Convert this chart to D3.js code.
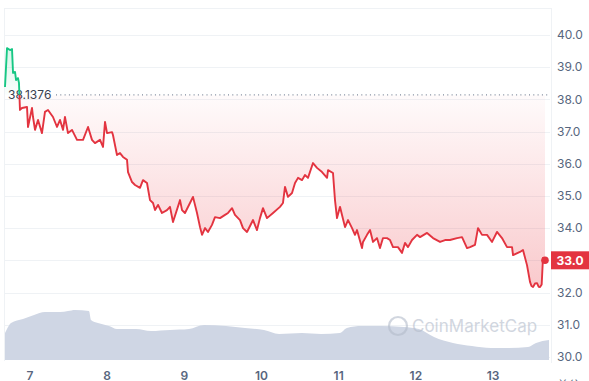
<!DOCTYPE html>
<html><head><meta charset="utf-8">
<script src="https://cdn.jsdelivr.net/npm/d3@7"></script>
<style>
html,body{margin:0;padding:0;background:#fff;}
svg{display:block;font-family:Inter,"Noto Sans",sans-serif;}
</style></head>
<body><svg id="c" width="589" height="381"></svg>
<script>
// ---- data ----
const baselinePrice = 38.1376;
const lastPrice = 33.0;
const dayTicks = [7, 8, 9, 10, 11, 12, 13];
const priceTicks = [30, 31, 32, 33, 34, 35, 36, 37, 38, 39, 40];
const priceTime = [6.676,6.702,6.741,6.767,6.780,6.806,6.819,6.844,6.857,6.870,6.896,6.961,6.974,7.026,7.039,7.065,7.104,7.155,7.194,7.233,7.298,7.350,7.389,7.428,7.453,7.492,7.544,7.609,7.687,7.752,7.803,7.842,7.907,7.946,7.972,7.998,8.063,8.075,8.127,8.166,8.205,8.257,8.270,8.322,8.361,8.425,8.464,8.516,8.555,8.594,8.620,8.659,8.710,8.775,8.814,8.853,8.944,8.970,9.008,9.073,9.112,9.164,9.203,9.229,9.268,9.306,9.358,9.397,9.462,9.527,9.566,9.618,9.656,9.721,9.760,9.812,9.890,9.941,9.980,10.019,10.071,10.149,10.239,10.278,10.304,10.343,10.395,10.434,10.473,10.525,10.563,10.602,10.667,10.719,10.784,10.849,10.862,10.926,10.952,10.978,11.017,11.043,11.082,11.121,11.173,11.211,11.237,11.302,11.315,11.367,11.406,11.445,11.496,11.535,11.574,11.626,11.665,11.704,11.768,11.820,11.859,11.898,11.950,12.015,12.054,12.145,12.222,12.313,12.378,12.442,12.533,12.598,12.663,12.702,12.766,12.805,12.857,12.922,12.987,13.051,13.116,13.181,13.246,13.259,13.349,13.388,13.440,13.479,13.498,13.518,13.544,13.570,13.590,13.609,13.630,13.647,13.673];
const priceValue = [38.38,39.59,39.53,39.56,38.82,38.85,38.60,38.66,38.51,37.67,37.73,37.76,37.14,37.73,37.45,37.05,37.36,36.95,37.61,37.67,37.45,37.14,37.36,37.05,37.45,36.95,37.05,36.74,36.74,37.14,36.74,36.64,36.74,36.52,37.30,36.95,36.98,36.89,36.27,36.33,36.21,36.12,35.74,35.43,35.34,35.25,35.49,35.40,34.87,34.78,34.56,34.72,34.47,34.56,34.66,34.19,34.87,34.56,34.47,34.78,34.97,34.47,34.03,33.79,34.00,33.88,34.10,34.34,34.31,34.41,34.47,34.62,34.41,34.25,34.00,33.88,34.25,33.94,34.31,34.62,34.31,34.47,34.66,34.78,35.28,34.97,35.09,35.40,35.56,35.49,35.65,35.56,36.02,35.87,35.74,35.56,35.80,35.71,34.87,34.31,34.66,34.41,34.03,34.25,34.00,33.79,33.94,33.38,33.57,33.79,33.94,33.57,33.69,33.38,33.69,33.69,33.63,33.41,33.41,33.23,33.54,33.41,33.63,33.79,33.72,33.85,33.69,33.57,33.63,33.63,33.69,33.72,33.38,33.41,33.48,34.00,33.79,33.79,33.57,33.88,33.69,33.41,33.41,33.16,33.26,33.32,32.85,32.33,32.20,32.17,32.28,32.29,32.18,32.17,32.25,33.07,33.01];
const volumeTime = [6.676,6.708,6.754,6.909,7.052,7.194,7.389,7.492,7.583,7.764,7.790,7.881,8.024,8.127,8.373,8.568,8.814,9.060,9.255,9.540,9.786,10.032,10.227,10.524,10.771,11.015,11.106,11.300,11.546,11.844,12.039,12.235,12.481,12.727,12.974,13.207,13.453,13.557,13.725];
const volumeValue = [27,32,37,41,45,48,48,49,50,49,40,37,34,31,31,29,30,31,35,34,32,30,26,27,26,27,32,34,34,33,31,23,17,14,12,12,13,17,20];

(function () {
// ---- layout ----
const svg = d3.select('#c');
const pLeft = 5, pRight = 550, pTop = 8, pBottom = 361;
const x = d3.scaleLinear().domain([6.676, 13.738]).range([pLeft, pRight]);
const y = d3.scaleLinear().domain([30, 40]).range([356.9, 34.9]);
const yv = d3.scaleLinear().domain([0, 100]).range([360, 260]);
const RED = '#e33440', GREEN = '#16c784';

const prices = priceTime.map((t, i) => ({t, v: priceValue[i]}));
const vols = volumeTime.map((t, i) => ({t, v: volumeValue[i]}));
const by = y(baselinePrice);

const defs = svg.append('defs');
const gr = defs.append('linearGradient').attr('id', 'gRed').attr('gradientUnits', 'userSpaceOnUse')
  .attr('x1', 0).attr('x2', 0).attr('y1', by).attr('y2', 295);
gr.append('stop').attr('offset', 0).attr('stop-color', '#ea3943').attr('stop-opacity', 0.02);
gr.append('stop').attr('offset', 1).attr('stop-color', '#ea3943').attr('stop-opacity', 0.28);
const gg = defs.append('linearGradient').attr('id', 'gGreen').attr('gradientUnits', 'userSpaceOnUse')
  .attr('x1', 0).attr('x2', 0).attr('y1', 40).attr('y2', by);
gg.append('stop').attr('offset', 0).attr('stop-color', GREEN).attr('stop-opacity', 0.2);
gg.append('stop').attr('offset', 1).attr('stop-color', GREEN).attr('stop-opacity', 0.02);
defs.append('clipPath').attr('id', 'above').append('rect').attr('x', 0).attr('y', 0).attr('width', 589).attr('height', by);
defs.append('clipPath').attr('id', 'below').append('rect').attr('x', 0).attr('y', by).attr('width', 589).attr('height', 381 - by);

// frame
svg.append('line').attr('x1', pLeft - 1).attr('x2', pRight + 1).attr('y1', pTop + 0.5).attr('y2', pTop + 0.5).attr('stroke', '#eff2f5');
svg.append('line').attr('x1', pLeft - 0.5).attr('x2', pLeft - 0.5).attr('y1', pTop).attr('y2', pBottom).attr('stroke', '#eff2f5');
svg.append('line').attr('x1', pRight + 1.5).attr('x2', pRight + 1.5).attr('y1', pTop).attr('y2', pBottom + 2).attr('stroke', '#eff2f5');

// gridlines
svg.append('g').selectAll('line').data(priceTicks).join('line')
  .attr('x1', pLeft).attr('x2', pRight).attr('y1', d => Math.round(y(d)) + 0.5).attr('y2', d => Math.round(y(d)) + 0.5)
  .attr('stroke', '#eff2f5');

// volume
svg.append('path').datum(vols)
  .attr('d', d3.area().x(d => x(d.t)).y0(yv(0)).y1(d => yv(d.v)).curve(d3.curveMonotoneX))
  .attr('fill', '#cfd6e4');

// watermark
const wm = svg.append('g').attr('opacity', 0.6);
wm.append('circle').attr('cx', 398).attr('cy', 326).attr('r', 9).attr('fill', 'none').attr('stroke', '#b4bccb').attr('stroke-width', 2.2);
wm.append('text').attr('x', 412).attr('y', 332).attr('font-size', 17).attr('fill', '#b4bccb').text('CoinMarketCap');

// price areas
const area = d3.area().x(d => x(d.t)).y0(by).y1(d => y(d.v));
svg.append('path').datum(prices).attr('d', area).attr('fill', 'url(#gRed)').attr('clip-path', 'url(#below)');
svg.append('path').datum(prices).attr('d', area).attr('fill', 'url(#gGreen)').attr('clip-path', 'url(#above)');

// baseline dotted
svg.append('line').attr('x1', 56).attr('x2', pRight - 2).attr('y1', by).attr('y2', by)
  .attr('stroke', '#808a9d').attr('stroke-width', 1.2).attr('stroke-dasharray', '1 3.3');
svg.append('text').attr('x', 8).attr('y', by).attr('dy', '0.35em').attr('font-size', 12)
  .attr('fill', '#3a4150').text(baselinePrice.toFixed(4));

// price line
const line = d3.line().x(d => x(d.t)).y(d => y(d.v));
svg.append('path').datum(prices).attr('d', line).attr('fill', 'none').attr('stroke', RED)
  .attr('stroke-width', 1.9).attr('stroke-linejoin', 'round').attr('clip-path', 'url(#below)');
svg.append('path').datum(prices).attr('d', line).attr('fill', 'none').attr('stroke', GREEN)
  .attr('stroke-width', 1.9).attr('stroke-linejoin', 'round').attr('clip-path', 'url(#above)');

const last = prices[prices.length - 1];
svg.append('circle').attr('cx', x(last.t)).attr('cy', y(lastPrice)).attr('r', 3.8).attr('fill', RED);

// y axis labels
svg.append('g').selectAll('text').data(priceTicks).join('text')
  .attr('x', 557).attr('y', d => y(d)).attr('dy', '0.35em').attr('font-size', 12).attr('fill', '#58667e')
  .text(d => d.toFixed(1));

// last price tag
svg.append('rect').attr('x', 551).attr('y', y(lastPrice) - 9).attr('width', 38).attr('height', 18).attr('fill', RED);
svg.append('text').attr('x', 570).attr('y', y(lastPrice)).attr('dy', '0.36em').attr('text-anchor', 'middle')
  .attr('font-size', 12).attr('font-weight', 700).attr('fill', '#fff').text(lastPrice.toFixed(1));

// x axis labels
svg.append('g').selectAll('text').data(dayTicks).join('text')
  .attr('x', d => x(d)).attr('y', 379.5).attr('text-anchor', 'middle').attr('font-size', 12)
  .attr('font-weight', 600).attr('fill', '#58667e').text(d => d);

svg.append('text').attr('x', 557).attr('y', 389).attr('font-size', 12).attr('fill', '#58667e').text('前往');
})();
</script></body></html>
